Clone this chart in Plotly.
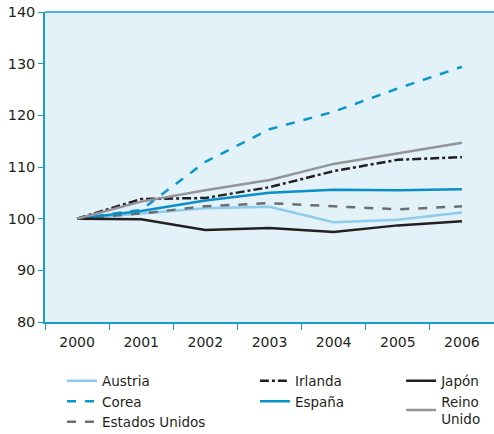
import plotly.graph_objects as go

years = ["2000", "2001", "2002", "2003", "2004", "2005", "2006"]

austria = [100, 101.0, 102.0, 102.3, 99.3, 99.8, 101.2]
corea = [100, 101.7, 111.0, 117.3, 120.7, 125.2, 129.4]
estados_unidos = [100, 101.0, 102.4, 103.0, 102.4, 101.8, 102.4]
irlanda = [100, 103.8, 104.0, 106.1, 109.2, 111.4, 111.9]
espana = [100, 101.5, 103.5, 105.0, 105.6, 105.5, 105.7]
japon = [100, 99.9, 97.8, 98.2, 97.4, 98.7, 99.5]
reino_unido = [100, 103.3, 105.5, 107.5, 110.6, 112.7, 114.7]

series = [
    ("Austria", austria, "#8fcbea", "solid", "legend"),
    ("Corea", corea, "#0a97cc", "dash", "legend"),
    ("Estados Unidos", estados_unidos, "#6d6e71", "dash", "legend"),
    ("Irlanda", irlanda, "#231f20", "dashdot", "legend2"),
    ("España", espana, "#0a8fc7", "solid", "legend2"),
    ("Japón", japon, "#231f20", "solid", "legend3"),
    ("Reino<br>Unido", reino_unido, "#939598", "solid", "legend3"),
]

fig = go.Figure()
for name, vals, color, dash, leg in series:
    fig.add_trace(go.Scatter(
        x=years, y=vals, name=name, mode="lines",
        line=dict(color=color, width=2.5, dash=dash),
        legend=leg,
    ))

axis_blue = "#1a9bd0"
fam = "'DejaVu Sans', sans-serif"
font = dict(family=fam, size=14, color="#231f20")
leg_common = dict(orientation="v", xanchor="left", yanchor="top", y=0.158,
                  xref="container", yref="container", bgcolor="rgba(0,0,0,0)",
                  font=dict(family=fam, size=13.5, color="#231f20"),
                  tracegroupgap=0)

fig.update_layout(
    width=494, height=434,
    margin=dict(l=45, r=0, t=12, b=112, autoexpand=False),
    plot_bgcolor="#e3f1f8",
    paper_bgcolor="white",
    font=font,
    showlegend=True,
    legend=dict(x=0.1255, **leg_common),
    legend2=dict(x=0.516, **leg_common),
    legend3=dict(x=0.812, **leg_common),
    xaxis=dict(
        type="category", tickson="boundaries", ticks="outside", ticklen=6,
        range=[-0.5, 6.5], automargin=False, ticklabelstandoff=6,
        tickcolor=axis_blue, showline=True, linecolor=axis_blue, linewidth=1.5,
        showgrid=False, mirror=False, zeroline=False,
        tickfont=dict(size=14),
    ),
    yaxis=dict(
        range=[80, 140], dtick=10, ticks="outside", ticklen=5, automargin=False,
        tickcolor=axis_blue, showline=True, linecolor=axis_blue, linewidth=1.5,
        showgrid=False, zeroline=False, tickfont=dict(size=14.5),
    ),
    shapes=[dict(type="line", xref="paper", yref="paper", x0=0, x1=1, y0=1, y1=1,
                 line=dict(color=axis_blue, width=1.5))],
)

# drop the default 8px page margin so the figure sits at the window's corner
fig.write_html("out.html", config={"displayModeBar": False},
               post_script="document.body.style.margin='0';")
